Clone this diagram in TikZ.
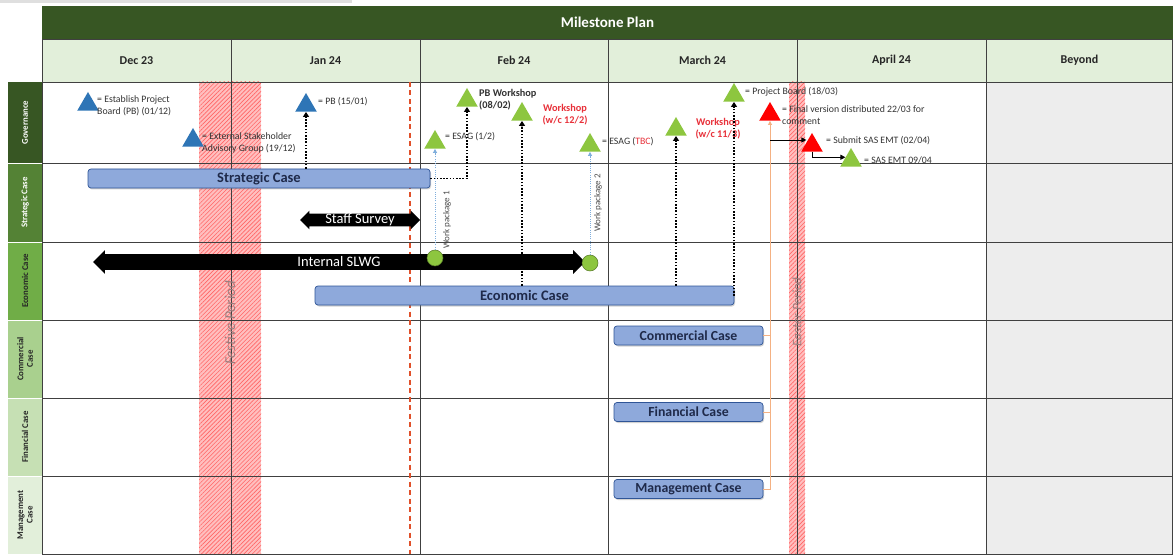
\documentclass[tikz,border=0pt]{standalone}
\usepackage{fontspec}
\setmainfont{Carlito}
\usetikzlibrary{shapes.geometric,shapes.arrows,patterns,patterns.meta,arrows.meta,shadows,calc}
\definecolor{dkgreen}{HTML}{375623}
\definecolor{hdrgreen}{HTML}{E2EFDA}
\definecolor{gtwo}{HTML}{548235}
\definecolor{gthree}{HTML}{70AD47}
\definecolor{gfour}{HTML}{A9D08E}
\definecolor{gfive}{HTML}{C6E0B4}
\definecolor{gsix}{HTML}{E2EFDA}
\definecolor{gridc}{HTML}{404040}
\definecolor{msblue}{HTML}{2E75B6}
\definecolor{msgreen}{HTML}{8DC63F}
\definecolor{barfill}{HTML}{8EA9DB}
\definecolor{barline}{HTML}{2F5597}
\definecolor{bartext}{HTML}{1F2A4A}
\definecolor{wsred}{HTML}{E8313A}
\definecolor{orangeln}{HTML}{F4B183}
\definecolor{ltblue}{HTML}{7FAEDC}
\definecolor{dashred}{HTML}{E0502A}
\definecolor{beyondgray}{HTML}{EDEDED}
\definecolor{bandtxt}{HTML}{9A7C7C}
\begin{document}
\begin{tikzpicture}[x=1pt,y=-1pt,
  tri/.style={regular polygon, regular polygon sides=3, minimum size=25pt, inner sep=0pt, draw=none},
  bluetri/.style={tri, fill=msblue},
  greentri/.style={tri, fill=msgreen},
  redtri/.style={tri, fill=red},
  lbl/.style={font=\fontsize{9.8}{12}\selectfont, text=black!80, align=left, inner sep=0pt, anchor=west},
  boldlbl/.style={lbl, font=\bfseries\fontsize{10.3}{12}\selectfont},
  redlbl/.style={font=\bfseries\fontsize{10.3}{12}\selectfont, text=wsred, align=center, inner sep=0pt},
  monthtxt/.style={font=\bfseries\fontsize{12}{12}\selectfont, text=black!85},
  rowlbl/.style={rotate=90, font=\bfseries\fontsize{8.8}{9.5}\selectfont, align=center, inner sep=0pt},
  casebar/.style={rounded corners=3pt, fill=barfill, draw=barline, line width=0.7pt, minimum height=19pt, inner sep=0pt, font=\bfseries\fontsize{14.5}{14.5}\selectfont, text=bartext, drop shadow={shadow xshift=1pt, shadow yshift=-1.5pt, opacity=0.35}},
  smallbar/.style={casebar, minimum width=149pt, font=\bfseries\fontsize{13.8}{13.8}\selectfont},
  dblarrow/.style={double arrow, fill=black, text=white, inner xsep=0pt, font=\fontsize{14.5}{14.5}\selectfont},
  dotarrow/.style={black, line width=1.8pt, dash pattern=on 1.6pt off 1.6pt, -{Triangle[length=5pt,width=6pt]}},
  bluedot/.style={ltblue, line width=1pt, dash pattern=on 1pt off 1.2pt, -{Triangle[length=4pt,width=4pt]}},
  orangeline/.style={orangeln, line width=0.8pt},
  blkarrow/.style={black, line width=0.9pt, -{Triangle[length=5pt,width=5pt]}},
  wsdot/.style={circle, fill=msgreen, draw=msgreen!60!black, line width=0.5pt, minimum size=16pt, inner sep=0pt},
  wplbl/.style={rotate=90, font=\fontsize{9}{9}\selectfont, text=black!70, inner sep=0pt},
  bandlbl/.style={rotate=90, font=\itshape\fontsize{15}{15}\selectfont, text=bandtxt, inner sep=0pt}
]
\useasboundingbox (0,0) rectangle (1173,556);
\fill[white] (0,0) rectangle (1173,556);
\fill[gray!25] (0,0.5) rectangle (352,3);

% title bar and month header
\fill[dkgreen] (42,6) rectangle (1173,39);
\node[font=\bfseries\fontsize{15}{15}\selectfont, text=white] (title) at (607.5,22) {Milestone Plan};
\fill[hdrgreen] (42,39) rectangle (1173,82);
\fill[beyondgray] (986,82) rectangle (1173,554);

% row label column
\fill[dkgreen] (8,82) rectangle (42,163);
\fill[gtwo] (8,163) rectangle (42,242);
\fill[gthree] (8,242) rectangle (42,320);
\fill[gfour] (8,320) rectangle (42,398);
\fill[gfive] (8,398) rectangle (42,476);
\fill[gsix] (8,476) rectangle (42,554);
\foreach \yy in {163,242,320,398,476} \draw[white, line width=0.6pt] (8,\yy) -- (42,\yy);
\node[rowlbl, text=white] (r1) at (25,122.5) {Governance};
\node[rowlbl, text=white] (r2) at (25,202.5) {Strategic Case};
\node[rowlbl, text=black!85] (r3) at (25,281) {Economic Case};
\node[rowlbl, text=black!85] (r4) at (25,359) {Commercial\\Case};
\node[rowlbl, text=black!85] (r5) at (25,437) {Financial Case};
\node[rowlbl, text=black!85] (r6) at (25,515) {Management\\Case};

% hatched bands
\foreach \a/\b in {199/261, 789/805} {
  \fill[red!25] (\a,82) rectangle (\b,554);
  \fill[pattern={Lines[angle=45,distance=3pt,line width=0.6pt]}, pattern color=red!60] (\a,82) rectangle (\b,554);
}

% grid
\foreach \yy in {39,82,163,242,320,398,476,554} \draw[gridc, line width=0.9pt] (42,\yy) -- (1173,\yy);
\foreach \xx in {42,231,420,608,797,986,1172.5} \draw[gridc, line width=0.9pt] (\xx,39) -- (\xx,554);

% month labels
\node[monthtxt] (m1) at (136.5,60.5) {Dec 23};
\node[monthtxt] (m2) at (325.5,60.5) {Jan 24};
\node[monthtxt] (m3) at (514,60.5) {Feb 24};
\node[monthtxt] (m4) at (702.5,60.5) {March 24};
\node[monthtxt] (m5) at (891.5,60.5) {April 24};
\node[monthtxt] (m6) at (1079.5,60.5) {Beyond};

% red dashed today line
\draw[dashred, line width=1.5pt, dash pattern=on 5pt off 3.5pt] (410,82) -- (410,554);

% band labels
\node[bandlbl] (fp) at (230,323) {Festive Period};
\node[bandlbl, font=\itshape\fontsize{13}{13}\selectfont] (ep) at (797,312) {Easter Period};

% bars
\node[casebar, minimum width=342pt] (sc) at (259,178.5) {Strategic Case};
\node[casebar, minimum width=419pt] (ec) at (524.5,295.5) {Economic Case};
\node[smallbar] (cc) at (688.5,335.5) {Commercial Case};
\node[smallbar] (fc) at (688.5,412) {Financial Case};
\node[smallbar] (mc) at (688.5,489) {Management Case};

% milestones
\node[bluetri] (T1) at (88,104.5) {};
\node[bluetri] (T2) at (193,140.5) {};
\node[bluetri] (T3) at (306,105.5) {};
\node[greentri] (T4) at (435,142.5) {};
\node[greentri] (T5) at (467,100.5) {};
\node[greentri] (T6) at (522,114.5) {};
\node[greentri] (T7) at (590,145.5) {};
\node[greentri] (T8) at (676,129.5) {};
\node[greentri] (T9) at (734,95.5) {};
\node[redtri] (T10) at (770,114.5) {};
\node[redtri] (T11) at (812,145.5) {};
\node[greentri] (T12) at (851,160.5) {};

\node[lbl] (L1) at (97,106) {= Establish Project\\Board (PB)\ (01/12)};
\node[lbl] (L2) at (202,143) {= External Stakeholder\\Advisory Group (19/12)};
\node[lbl] (L3) at (318,102) {= PB (15/01)};
\node[lbl] (L4) at (445,137) {= ESAG (1/2)};
\node[boldlbl] (L5) at (479,100) {PB Workshop\\(08/02)};
\node[redlbl] (L6) at (565,115) {Workshop\\(w/c 12/2)};
\node[lbl] (L7) at (602,142) {= ESAG ({\color{wsred}TBC})};
\node[redlbl] (L8) at (718,129) {Workshop\\(w/c 11/3)};
\node[lbl] (L9) at (745,92) {= Project Board (18/03)};
\node[lbl] (L10) at (782,115) {= Final version distributed 22/03 for\\comment};
\node[lbl] (L11) at (826,141) {= Submit SAS EMT (02/04)};
\node[lbl] (L12) at (864,160) {= SAS EMT 09/04};

% dotted dependency arrows
\draw[dotarrow] (T3.side 2 |- sc.north) -- (T3.side 2);
\draw[dotarrow] (sc.east) -| (T5.side 2);
\draw[dotarrow] (T6.side 2 |- ec.north) -- (T6.side 2);
\draw[dotarrow] (T8.side 2 |- ec.north) -- (T8.side 2);
\draw[dotarrow] (ec.east) -| (T9.side 2);

% double arrows
\node[dblarrow, minimum height=120pt, inner ysep=0pt, double arrow head extend=3pt] (ss) at (360,220) {Staff Survey};
\node[dblarrow, minimum height=492pt, inner ysep=2.5pt, double arrow head extend=4pt] (slwg) at (339,262) {Internal SLWG};

% work packages
\node[wsdot] (c1) at (435,258) {};
\node[wsdot] (c2) at (590,263) {};
\draw[bluedot] (c1.north) -- (T4.side 2);
\draw[bluedot] (c2.north) -- (T7.side 2);
\node[wplbl] (wp1) at (447,220) {Work package 1};
\node[wplbl] (wp2) at (598,203) {Work package 2};

% orange bracket to final version
\draw[orangeline, -{Triangle[length=4pt,width=4pt]}] (mc.east) -| (T10.side 2);
\draw[orangeline] (cc.east) -- (cc.east -| T10.side 2);
\draw[orangeline] (fc.east) -- (fc.east -| T10.side 2);

% black arrows to SAS EMT
\coordinate (br) at (770,140);
\draw[blkarrow] (br) -- (br -| T11.side 1);
\draw[blkarrow] (T11.side 2) |- (T12.side 1);
\end{tikzpicture}
\end{document}
